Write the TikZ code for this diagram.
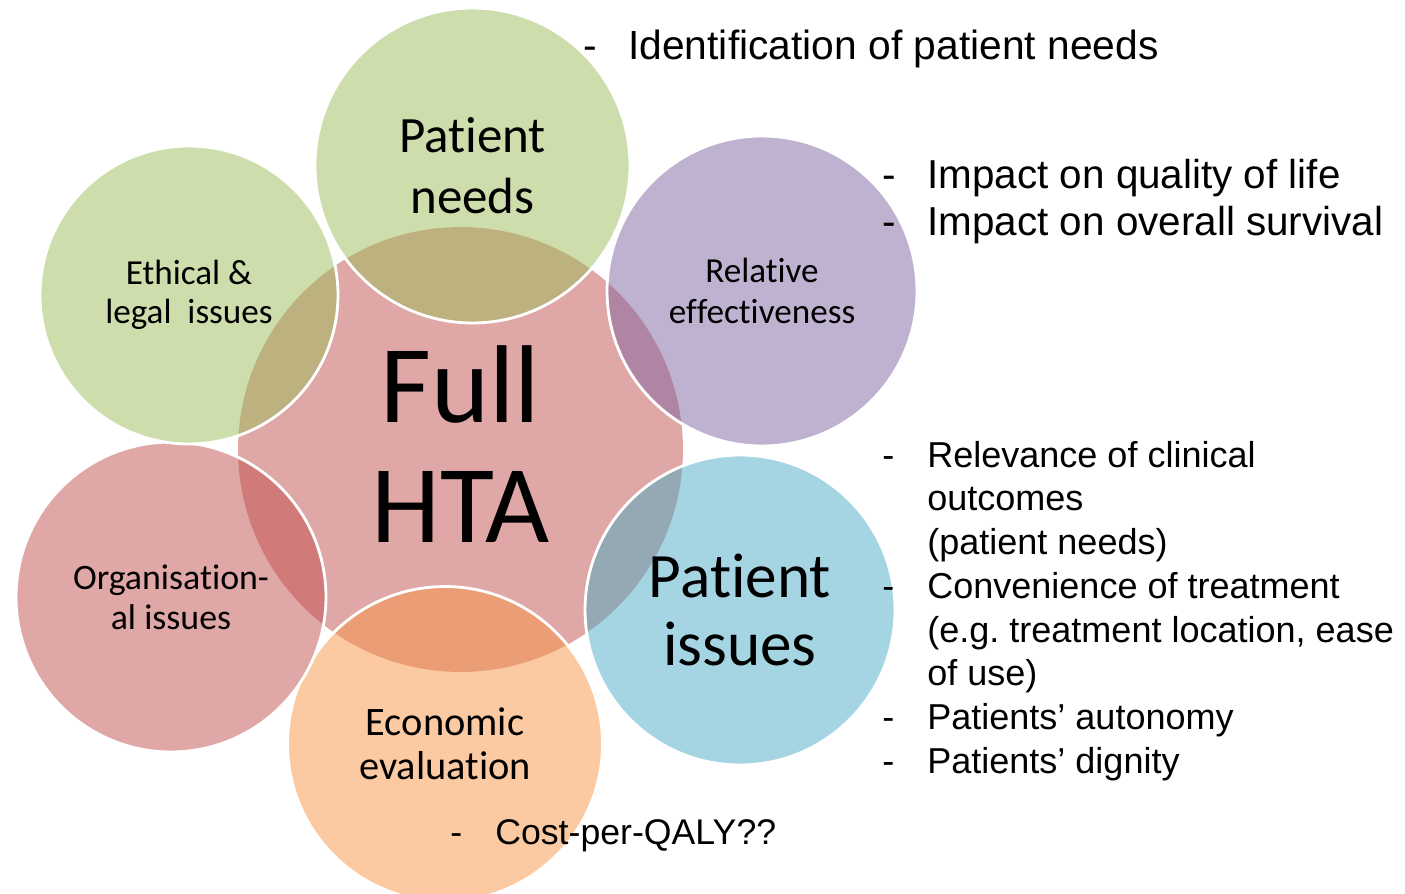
\documentclass[tikz,border=0pt]{standalone}
\usepackage{fontspec}
\setmainfont{Carlito}[Ligatures={CommonOff,ContextualOff}, Contextuals=AlternateOff]
\newfontfamily\arial{Liberation Sans}
\usepackage{tikz, xcolor}
\definecolor{hred}{HTML}{C0504D}
\definecolor{hgreen}{HTML}{9BBB59}
\definecolor{hpurple}{HTML}{8064A2}
\definecolor{hblue}{HTML}{4BACC6}
\definecolor{horange}{HTML}{F79646}
\newcommand{\dashlist}[1]{\begin{tabular}[t]{@{}p{0.9cm}@{}l@{}}#1\end{tabular}}
\newcommand{\nl}{\kern0pt} % breaks the ti / ff ligatures
\frenchspacing

\begin{document}
\begin{tikzpicture}[x=0.02cm, y=-0.02cm]
\tikzstyle{vertexc}=[circle, draw=white, line width=1.6pt, fill opacity=0.5, text opacity=1, inner sep=0pt, align=center]
\tikzstyle{vertexl}=[anchor=base west, inner sep=0pt]

\useasboundingbox (0,0) rectangle (1405,893);
\clip (0,0) rectangle (1405,893);

\node[vertexc, draw=none, fill=hred, minimum size=8.9cm] (G0) at (460.5,449.5) {};
\node[align=center, font={\fontsize{63}{68}\selectfont}] (T0) at (460.5,444) {Full\\HTA};
\node[vertexc, fill=hgreen, minimum size=6.3cm, font={\fontsize{29}{34.6}\selectfont}] (G1) at (472.5,165.5) {Pat\nl ient\\needs};
\node[vertexc, fill=hpurple, minimum size=6.2cm, font={\fontsize{20}{23}\selectfont}] (G2) at (762,291) {Relat\nl ive\\ef\nl fect\nl iveness};
\node[vertexc, fill=hblue, minimum size=6.2cm, font={\fontsize{36}{38.6}\selectfont}] (G3) at (740,610) {Pat\nl ient\\issues};
\node[vertexc, fill=horange, minimum size=6.3cm, font={\fontsize{23}{25}\selectfont}] (G4) at (445,744) {Economic\\evaluat\nl ion};
\node[vertexc, fill=hred, minimum size=6.2cm, font={\fontsize{20.4}{22.7}\selectfont}] (G5) at (171,597) {Organisat\nl ion-\\al issues};
\node[vertexc, fill=hgreen, minimum size=5.96cm, font={\fontsize{20}{22.5}\selectfont}] (G6) at (189,295) {Ethical \&\\legal\ \ issues};

\node[vertexl, font={\arial\fontsize{23.2}{27.2}\selectfont}] (L1) at (583,59) {\dashlist{-&Identification of patient needs}};
\node[vertexl, font={\arial\fontsize{23}{27.2}\selectfont}] (L2) at (882,188) {\dashlist{-&Impact on quality of life\\-&Impact on overall survival}};
\node[vertexl, font={\arial\fontsize{20.5}{24.9}\selectfont}] (L3) at (882,467) {\dashlist{-&Relevance of clinical\\&outcomes\\&(patient needs)\\-&Convenience of treatment\\&(e.g. treatment location, ease\\&of use)\\-&Patients’ autonomy\\-&Patients’ dignity}};
\node[vertexl, font={\arial\fontsize{20.3}{24}\selectfont}] (L4) at (450,844) {\dashlist{-&Cost-per-QALY??}};
\end{tikzpicture}
\end{document}
